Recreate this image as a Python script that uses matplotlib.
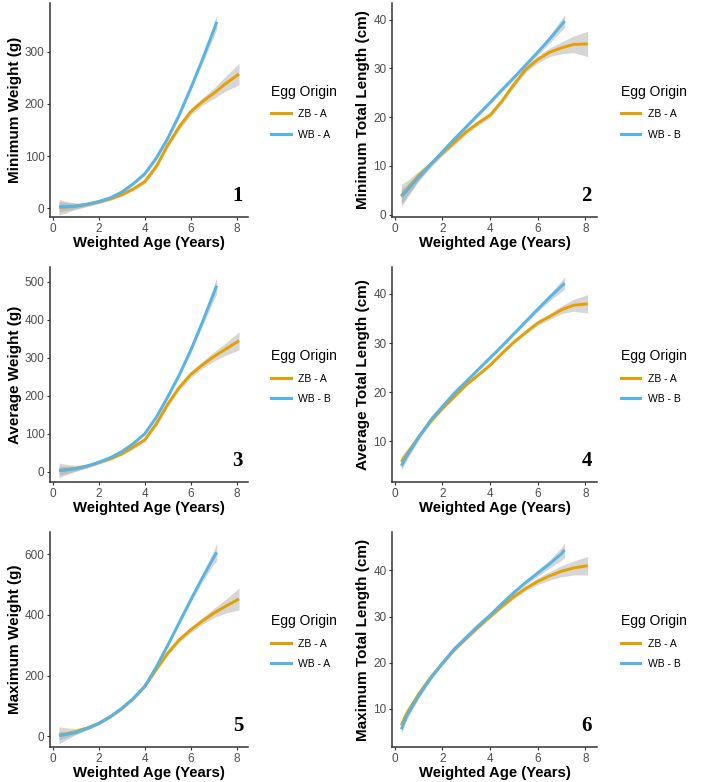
import matplotlib
matplotlib.use("Agg")
import matplotlib.pyplot as plt
from matplotlib.lines import Line2D

plt.rcParams["font.family"] = ["Liberation Sans", "DejaVu Sans"]

ZB_COLOR = "#E69F00"
WB_COLOR = "#56B4E9"

# shared age grids
age_zb = [0.27, 0.5, 1, 1.5, 2, 2.5, 3, 3.5, 4, 4.5, 5, 5.5, 6, 6.5, 7, 7.5, 8.1]
age_wb = [0.27, 0.5, 1, 1.5, 2, 2.5, 3, 3.5, 4, 4.5, 5, 5.5, 6, 6.5, 7, 7.13]

# 1 - minimum weight
min_wt_zb = [2, 2, 4, 7, 12, 18, 26, 37, 51, 80, 121, 156, 185, 204, 220, 238, 257]
min_wt_zb_ci = [15, 12, 6, 4, 3, 3, 3, 3, 4, 5, 5, 6, 6, 7, 10, 14, 21]
min_wt_wb = [3, 3, 4, 8, 13, 20, 31, 47, 66, 96, 134, 179, 230, 284, 341, 357]
min_wt_wb_ci = [10, 8, 5, 3, 3, 3, 3, 3, 3, 4, 4, 5, 5, 7, 12, 14]

# 2 - minimum total length
min_tl_zb = [3.9, 5.1, 8.0, 10.3, 12.6, 14.8, 17.0, 18.8, 20.4, 23.3, 26.7, 29.8, 31.8, 33.3, 34.2, 34.9, 35.0]
min_tl_zb_ci = [2.3, 1.8, 0.9, 0.6, 0.5, 0.5, 0.5, 0.5, 0.5, 0.5, 0.5, 0.6, 0.7, 0.9, 1.2, 1.7, 2.6]
min_tl_wb = [3.7, 4.9, 7.6, 10.3, 12.9, 15.5, 18.0, 20.5, 23.0, 25.6, 28.1, 30.7, 33.3, 36.0, 38.9, 39.7]
min_tl_wb_ci = [1.5, 1.2, 0.8, 0.5, 0.4, 0.4, 0.4, 0.4, 0.4, 0.4, 0.4, 0.5, 0.6, 0.8, 1.2, 1.3]

# 3 - average weight
avg_wt_zb = [3.5, 5, 9, 15, 24, 34, 47, 65, 84, 126, 178, 222, 256, 281, 303, 322, 345]
avg_wt_zb_ci = [20, 15, 8, 5, 4, 4, 4, 5, 5, 6, 7, 7, 8, 9, 12, 16, 24]
avg_wt_wb = [3, 4, 8, 15, 25, 37, 53, 74, 100, 143, 197, 255, 320, 393, 470, 490]
avg_wt_wb_ci = [12, 10, 6, 4, 3, 3, 3, 3, 4, 4, 5, 6, 8, 11, 18, 22]

# 4 - average total length
avg_tl_zb = [5.8, 7.4, 10.9, 14.0, 16.7, 19.1, 21.5, 23.5, 25.5, 27.9, 30.2, 32.2, 34.1, 35.4, 36.8, 37.7, 38.0]
avg_tl_zb_ci = [1.2, 0.9, 0.5, 0.4, 0.3, 0.3, 0.3, 0.3, 0.3, 0.3, 0.3, 0.4, 0.5, 0.6, 0.8, 1.2, 1.9]
avg_tl_wb = [5.0, 7.0, 10.8, 14.3, 17.1, 19.8, 22.2, 24.6, 27.0, 29.4, 31.9, 34.4, 36.9, 39.3, 41.6, 42.2]
avg_tl_wb_ci = [1.0, 0.8, 0.5, 0.3, 0.3, 0.3, 0.3, 0.3, 0.3, 0.3, 0.3, 0.4, 0.5, 0.7, 1.1, 1.3]

# 5 - maximum weight
max_wt_zb = [3, 6, 15, 27, 42, 64, 90, 124, 164, 220, 274, 318, 351, 380, 406, 428, 453]
max_wt_zb_ci = [28, 22, 10, 6, 5, 5, 5, 5, 5, 6, 7, 8, 9, 11, 15, 22, 36]
max_wt_wb = [2, 4, 12, 25, 42, 64, 92, 124, 164, 228, 300, 375, 450, 522, 590, 607]
max_wt_wb_ci = [14, 11, 6, 4, 3, 3, 3, 4, 4, 5, 6, 7, 9, 13, 22, 30]

# 6 - maximum total length
max_tl_zb = [6.4, 9.0, 13.2, 16.8, 19.9, 22.8, 25.3, 27.7, 30.0, 32.2, 34.3, 36.1, 37.6, 38.8, 39.8, 40.5, 41.0]
max_tl_zb_ci = [1.3, 1.0, 0.6, 0.4, 0.4, 0.4, 0.4, 0.4, 0.4, 0.4, 0.4, 0.5, 0.7, 0.9, 1.2, 1.5, 2.0]
max_tl_wb = [5.6, 8.5, 12.8, 16.6, 19.9, 23.0, 25.5, 28.0, 30.3, 32.8, 35.2, 37.4, 39.4, 41.4, 43.6, 44.4]
max_tl_wb_ci = [1.0, 0.8, 0.5, 0.4, 0.4, 0.4, 0.4, 0.4, 0.4, 0.4, 0.4, 0.5, 0.7, 0.9, 1.4, 1.6]

panels = [
    ("Minimum Weight (g)", min_wt_zb, min_wt_zb_ci, min_wt_wb, min_wt_wb_ci, "WB - A",
     [0, 100, 200, 300], (-16.7, 393)),
    ("Minimum Total Length (cm)", min_tl_zb, min_tl_zb_ci, min_tl_wb, min_tl_wb_ci, "WB - B",
     [0, 10, 20, 30, 40], (-0.5, 43.4)),
    ("Average Weight (g)", avg_wt_zb, avg_wt_zb_ci, avg_wt_wb, avg_wt_wb_ci, "WB - B",
     [0, 100, 200, 300, 400, 500], (-27, 539)),
    ("Average Total Length (cm)", avg_tl_zb, avg_tl_zb_ci, avg_tl_wb, avg_tl_wb_ci, "WB - B",
     [10, 20, 30, 40], (1.7, 45.5)),
    ("Maximum Weight (g)", max_wt_zb, max_wt_zb_ci, max_wt_wb, max_wt_wb_ci, "WB - A",
     [0, 200, 400, 600], (-36, 674)),
    ("Maximum Total Length (cm)", max_tl_zb, max_tl_zb_ci, max_tl_wb, max_tl_wb_ci, "WB - B",
     [10, 20, 30, 40], (1.74, 48.3)),
]

W, H = 702, 782
fig = plt.figure(figsize=(W / 100, H / 100), dpi=100)

col_x = [(50, 248), (392, 597)]
row_y = [(3, 217), (267, 482), (532, 747)]


def band(vals, ci, sign):
    return [v + sign * c for v, c in zip(vals, ci)]


for i, (ylabel, zb, zb_ci, wb, wb_ci, wb_name, yticks, ylim) in enumerate(panels):
    (x0, x1), (y0, y1) = col_x[i % 2], row_y[i // 2]
    ax = fig.add_axes([x0 / W, 1 - y1 / H, (x1 - x0) / W, (y1 - y0) / H])

    ax.fill_between(age_zb, band(zb, zb_ci, -1), band(zb, zb_ci, 1),
                    color="#999999", alpha=0.4, lw=0)
    ax.fill_between(age_wb, band(wb, wb_ci, -1), band(wb, wb_ci, 1),
                    color="#999999", alpha=0.4, lw=0)
    ax.plot(age_zb, zb, color=ZB_COLOR, lw=2.1, solid_capstyle="butt")
    ax.plot(age_wb, wb, color=WB_COLOR, lw=2.1, solid_capstyle="butt")

    ax.set_xlim(-0.12, 8.49)
    ax.set_ylim(*ylim)
    ax.set_xticks([0, 2, 4, 6, 8])
    ax.set_yticks(yticks)
    for side in ("top", "right"):
        ax.spines[side].set_visible(False)
    for side in ("left", "bottom"):
        ax.spines[side].set_color("#333333")
        ax.spines[side].set_linewidth(1.1)
    ax.tick_params(labelsize=8.5, labelcolor="#4d4d4d", color="#333333",
                   length=2.5, width=0.8, pad=1.5)

    ax.set_xlabel("Weighted Age (Years)", fontsize=10.7, fontweight="bold", labelpad=1)
    ax.set_ylabel(ylabel, fontsize=11, fontweight="bold", labelpad=2)

    ax.text(0.975, 0.05, str(i + 1), transform=ax.transAxes, ha="right", va="bottom",
            fontsize=15, fontweight="bold", family="Liberation Serif")

    handles = [Line2D([], [], color=ZB_COLOR, lw=2.2),
               Line2D([], [], color=WB_COLOR, lw=2.2)]
    leg = ax.legend(handles, ["ZB - A", wb_name], title="Egg Origin",
                    loc="center left", bbox_to_anchor=(1.09, 0.49), frameon=False,
                    fontsize=7.5, title_fontsize=10, handlelength=1.9,
                    handletextpad=0.7, labelspacing=1.0, borderpad=0)
    leg._legend_box.align = "left"

fig.savefig("out.png", dpi=100)
